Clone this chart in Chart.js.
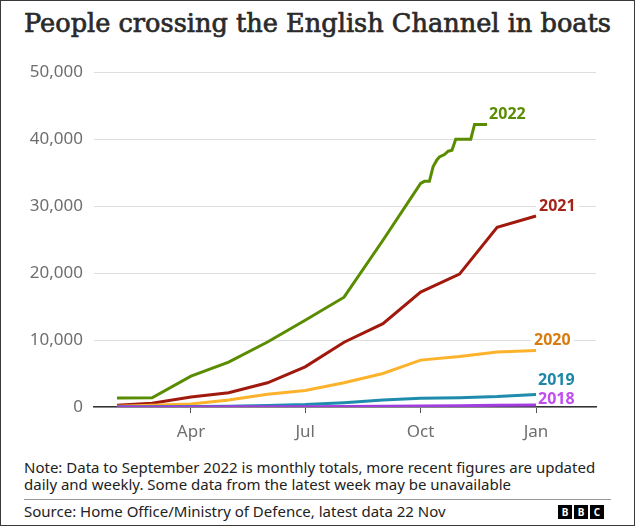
<!DOCTYPE html>
<html>
<head>
<meta charset="utf-8">
<script src="https://cdn.jsdelivr.net/npm/chart.js@4/dist/chart.umd.min.js"></script>
<style>
  html, body { margin: 0; padding: 0; background: #fff; }
  #frame {
    position: relative; width: 635px; height: 526px; box-sizing: border-box;
    border: 1px solid #3a3a3a; overflow: hidden; background: #fff;
    font-family: "Noto Sans", sans-serif; color: #222;
  }
  #title {
    position: absolute; left: 23px; top: 7px; white-space: nowrap;
    font-family: "DejaVu Serif", serif; font-size: 26px; color: #2a2a2a;
    -webkit-text-stroke: 0.7px #2a2a2a;
    transform-origin: left top;
  }
  #chart { position: absolute; left: 0; top: 50px; }
  #note {
    position: absolute; left: 23px; top: 458px; font-size: 15px;
    line-height: 17px; white-space: nowrap; color: #222;
  }
  #rule { position: absolute; left: 23px; top: 498px; width: 587px; height: 1px; background: #999; }
  #source {
    position: absolute; left: 23px; top: 501px; font-size: 15px;
    line-height: 18px; white-space: nowrap; color: #222;
  }
  #logo { position: absolute; left: 557px; top: 504px; display: flex; gap: 2px; }
  #logo span {
    width: 14px; height: 14px; background: #000; color: #fff;
    font: bold 10px "Noto Sans", sans-serif; line-height: 14px; text-align: center;
  }
</style>
</head>
<body>
<div id="frame">
  <div id="title">People crossing the English Channel in boats</div>
  <canvas id="chart" width="635" height="400"></canvas>
  <div id="note">Note: Data to September 2022 is monthly totals, more recent figures are updated<br>daily and weekly. Some data from the latest week may be unavailable</div>
  <div id="rule"></div>
  <div id="source">Source: Home Office/Ministry of Defence, latest data 22 Nov</div>
  <div id="logo"><span>B</span><span>B</span><span>C</span></div>
</div>
<script>
// day of year at the end of each month
const monthEnds = [31, 59, 90, 120, 151, 181, 212, 243, 273, 304, 334, 365];

// cumulative crossings at each month end
const values2018 = [0, 0, 10, 20, 30, 40, 60, 100, 150, 200, 250, 300];
const values2019 = [30, 40, 70, 130, 230, 360, 650, 1050, 1300, 1400, 1550, 1850];
const values2020 = [100, 250, 450, 1040, 1890, 2480, 3620, 5010, 7000, 7550, 8230, 8450];
const values2021 = [250, 550, 1490, 2130, 3620, 6000, 9670, 12450, 17160, 19840, 26830, 28530];

// 2022: monthly to September, then daily/weekly updates
const days2022 = [31, 59, 90, 120, 151, 181, 212, 243, 273, 276, 280, 283, 286, 288, 292, 295, 298, 301, 313, 316, 326];
const values2022 = [1340, 1380, 4600, 6700, 9700, 12950, 16400, 24900, 33400, 33700, 33700, 35900, 36900, 37350, 37700, 38200, 38350, 40000, 40000, 42200, 42200];

const seriesNames = ["2018", "2019", "2020", "2021", "2022"];
const lineColors = ["#a23ee0", "#1f8bad", "#fdb22b", "#a0190c", "#5a8c00"];
const labelColors = ["#c04cf2", "#1d87a8", "#d87c0f", "#a3241a", "#5a8c00"];

const tickDays = [90, 181, 273, 365];
const tickLabels = ["Apr", "Jul", "Oct", "Jan"];

const pairs = (xs, ys) => xs.map((x, i) => ({ x: x, y: ys[i] }));

const allSeries = [
  pairs(monthEnds, values2018),
  pairs(monthEnds, values2019),
  pairs(monthEnds, values2020),
  pairs(monthEnds, values2021),
  pairs(days2022, values2022),
];

// where each end label sits relative to the last point of its line
const labelOffsets = [
  { dx: 2, dy: -6 },
  { dx: 2, dy: -14 },
  { dx: -2, dy: -10 },
  { dx: 3, dy: -10 },
  { dx: 2, dy: -10 },
];

const endLabels = {
  id: "endLabels",
  beforeDatasetsDraw(chart) {
    const ctx = chart.ctx;
    ctx.save();
    ctx.font = "bold 16px 'Noto Sans'";
    chart.data.datasets.forEach((ds, i) => {
      const pts = chart.getDatasetMeta(i).data;
      const p = pts[pts.length - 1];
      const w = ctx.measureText(ds.label).width;
      ctx.fillStyle = "#fff";
      ctx.fillRect(p.x + labelOffsets[i].dx - 3, p.y + labelOffsets[i].dy - 7, w + 6, 14);
    });
    ctx.restore();
  },
  afterDatasetsDraw(chart) {
    const ctx = chart.ctx;
    ctx.save();
    ctx.font = "bold 16px 'Noto Sans'";
    ctx.textBaseline = "middle";
    ctx.textAlign = "left";
    chart.data.datasets.forEach((ds, i) => {
      const pts = chart.getDatasetMeta(i).data;
      const p = pts[pts.length - 1];
      ctx.fillStyle = labelColors[i];
      ctx.fillText(ds.label, p.x + labelOffsets[i].dx, p.y + labelOffsets[i].dy);
    });
    ctx.restore();
  },
};

new Chart(document.getElementById("chart"), {
  type: "line",
  plugins: [endLabels],
  data: {
    datasets: allSeries.map((d, i) => ({
      label: seriesNames[i],
      data: d,
      borderColor: lineColors[i],
      borderWidth: 3,
      pointRadius: 0,
      tension: 0,
      fill: false,
    })),
  },
  options: {
    responsive: false,
    animation: false,
    layout: { padding: { top: 20, right: 40, left: 0, bottom: 0 } },
    plugins: { legend: { display: false }, tooltip: { enabled: false } },
    scales: {
      x: {
        type: "linear",
        min: 12.7,
        max: 412.8,
        afterBuildTicks: (scale) => {
          scale.ticks = tickDays.map((v) => ({ value: v }));
        },
        afterFit: (scale) => { scale.height = 44; },
        grid: { drawOnChartArea: false, drawTicks: true, tickLength: 6, color: "#555" },
        border: { display: true, color: "#333", width: 1.5 },
        ticks: {
          padding: 9,
          color: "#6e6e6e",
          font: { family: "Noto Sans", size: 17 },
          maxRotation: 0,
          callback: (v, i) => tickLabels[i],
        },
      },
      y: {
        min: 0,
        max: 50000,
        afterFit: (scale) => { scale.width = 93; },
        grid: { color: "#dedede", drawTicks: false },
        border: { display: false },
        ticks: {
          stepSize: 10000,
          padding: 11,
          color: "#6e6e6e",
          font: { family: "Noto Sans", size: 17 },
          callback: (v) => v.toLocaleString("en-GB"),
        },
      },
    },
  },
});

// fit the title to the width it takes in the original
const title = document.getElementById("title");
const tw = title.getBoundingClientRect().width;
title.style.transform = "scaleX(" + (587 / tw) + ")";
</script>
</body>
</html>
